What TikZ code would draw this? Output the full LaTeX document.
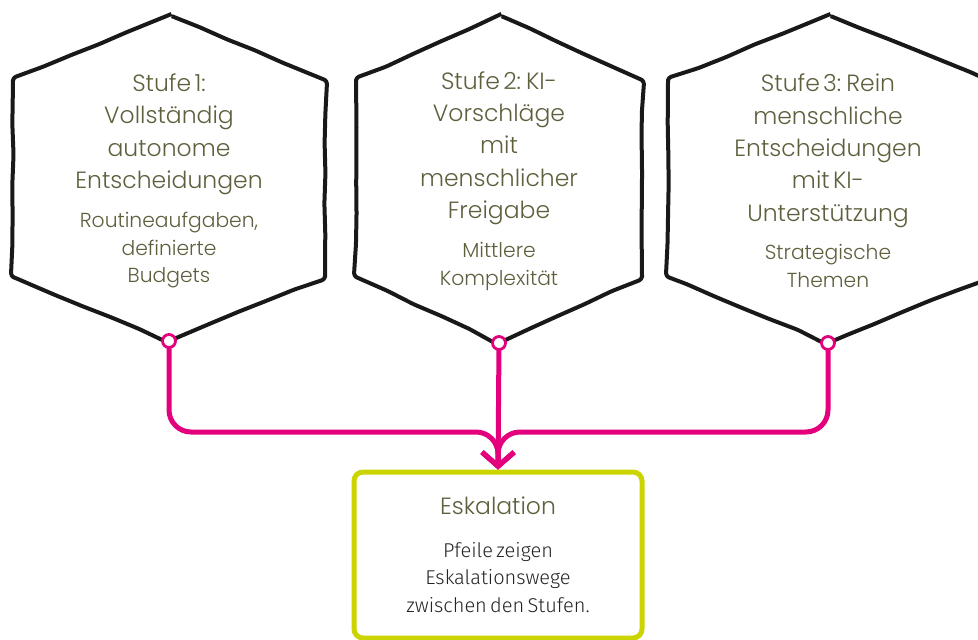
\documentclass[tikz,border=0pt]{standalone}
\usepackage{fontspec}
\IfFontExistsTF{Poppins Light}{\newfontfamily\hexfont{Poppins Light}}{\newfontfamily\hexfont{Poppins}}
\IfFontExistsTF{Fira Sans Light}{\newfontfamily\notefont{Fira Sans Light}}{\newfontfamily\notefont{Fira Sans}}
\usetikzlibrary{arrows.meta, positioning, decorations.pathmorphing}

\definecolor{textolive}{RGB}{95,95,62}
\definecolor{escpink}{RGB}{228,0,124}
\definecolor{eskgreen}{RGB}{204,212,0}
\definecolor{notegray}{RGB}{35,35,35}

\newcommand{\stufesize}{\fontsize{23.5}{32.3}\selectfont}
\newcommand{\themasize}{\fontsize{20.3}{27.8}\selectfont}
\newcommand{\notesize}{\fontsize{20}{27.5}\selectfont}

\tikzset{
  hexline/.style={draw=black!90, line width=4pt, line join=round, rounded corners=3pt,
    decorate, decoration={random steps, segment length=30pt, amplitude=0.7pt}},
  hextext/.style={text width=250pt, align=center, inner sep=0pt, text=textolive, font=\hexfont},
  port/.style={circle, draw=escpink, fill=white, line width=2.8pt, minimum size=13pt, inner sep=0pt},
  escline/.style={draw=escpink, line width=5pt, rounded corners=22pt, line cap=round},
  eskbox/.style={draw=eskgreen, line width=5pt, rounded corners=9pt, minimum width=288pt,
    minimum height=166pt, text width=262pt, align=center, inner sep=0pt}
}

\begin{document}
\begin{tikzpicture}[x=1pt, y=-1pt, >={Straight Barb[length=14pt, width=32pt]}, line width=0.5pt]
  \useasboundingbox (0,0) rectangle (978,640);
  \clip (0,0) rectangle (978,640);

  \draw[hexline] (169,15) -- (325,80) -- (325,277) -- (169,341) -- (13,277) -- (13,80) -- cycle;
  \draw[hexline] (499,15) -- (642,80) -- (642,277) -- (499,343) -- (356,277) -- (356,80) -- cycle;
  \draw[hexline] (828,15) -- (988,80) -- (988,277) -- (828,343) -- (668,277) -- (668,80) -- cycle;

  \node[hextext] (stufe1) at (169,181) {\stufesize Stufe 1:\\ Vollständig\\ autonome\\ Entscheidungen\par\vspace{11pt}
    \themasize Routineaufgaben,\\ definierte\\ Budgets\par};
  \node[hextext] (stufe2) at (499,181) {\stufesize Stufe 2: KI-\\ Vorschläge\\ mit\\ menschlicher\\ Freigabe\par\vspace{11pt}
    \themasize Mittlere\\ Komplexität\par};
  \node[hextext] (stufe3) at (828,181) {\stufesize Stufe 3: Rein\\ menschliche\\ Entscheidungen\\ mit KI-\\ Unterstützung\par\vspace{11pt}
    \themasize Strategische\\ Themen\par};

  \node[eskbox] (eskal) at (498,555) {{\hexfont\stufesize\color{textolive} Eskalation\par}\vspace{15pt}
    {\notefont\notesize\color{notegray} Pfeile zeigen\\ Eskalationswege\\ zwischen den Stufen.\par}};

  \node[port] (port1) at (169,341) {};
  \node[port] (port2) at (499,343) {};
  \node[port] (port3) at (828,343) {};
  \coordinate (merge) at (498,432);

  \draw[escline, ->] (port1) |- (merge) -- (eskal.north);
  \draw[escline, ->] (port3) |- (merge) -- (eskal.north);
  \draw[escline, ->] (port2) -- (eskal.north);
\end{tikzpicture}
\end{document}
